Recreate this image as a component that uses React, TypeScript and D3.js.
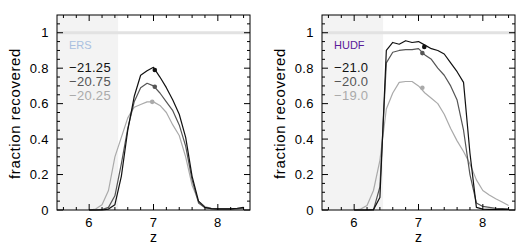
import React, { useEffect, useRef } from "react";
import * as d3 from "d3";

const WIDTH = 531;
const HEIGHT = 246;
const PANEL_W = 193;
const TOP = 15;
const BOTTOM = 210;
const PANEL_LEFTS = [57, 322];

const FONT = "'Liberation Sans', Arial, sans-serif";
const SERIES_COLORS = ["#111111", "#555555", "#aaaaaa"];

const zGrid = [6.0, 6.1, 6.2, 6.3, 6.4, 6.5, 6.6, 6.7, 6.8, 6.9, 7.0, 7.1, 7.2, 7.3, 7.4, 7.5, 7.6, 7.7, 7.8, 7.9, 8.0, 8.1, 8.2, 8.3, 8.4];

// ERS panel
const ersLabels = ["\u221221.25", "\u221220.75", "\u221220.25"];
const ersBright = [0, 0, 0, 0.005, 0.03, 0.19, 0.45, 0.64, 0.76, 0.785, 0.805, 0.75, 0.69, 0.62, 0.54, 0.41, 0.19, 0.05, 0.015, 0.008, 0.006, 0.006, 0.006, 0.01, 0.015];
const ersMid = [0, 0, 0.003, 0.015, 0.08, 0.26, 0.46, 0.61, 0.69, 0.715, 0.7, 0.66, 0.61, 0.56, 0.48, 0.36, 0.17, 0.04, 0.012, 0.008, 0.006, 0.006, 0.006, 0.008, 0.01];
const ersFaint = [0, 0.005, 0.03, 0.11, 0.3, 0.41, 0.52, 0.58, 0.595, 0.61, 0.61, 0.59, 0.55, 0.48, 0.42, 0.3, 0.14, 0.05, 0.02, 0.01, 0.006, 0.005, 0.005, 0.006, 0.008];
const ersMarkers = [[7.02, 0.79], [7.02, 0.695], [6.98, 0.61]];

// HUDF panel
const hudfLabels = ["\u221221.0", "\u221220.0", "\u221219.0"];
const hudfBright = [0, 0, 0, 0.002, 0.07, 0.9, 0.945, 0.935, 0.955, 0.945, 0.95, 0.93, 0.91, 0.9, 0.88, 0.83, 0.78, 0.72, 0.32, 0.015, 0.005, 0.004, 0.004, 0.004, 0.004];
const hudfMid = [0, 0, 0, 0, 0.13, 0.83, 0.89, 0.9, 0.905, 0.905, 0.91, 0.875, 0.85, 0.8, 0.76, 0.7, 0.62, 0.45, 0.2, 0.04, 0.02, 0.015, 0.01, 0.008, 0.005];
const hudfFaint = [0, 0.005, 0.025, 0.11, 0.28, 0.57, 0.66, 0.72, 0.725, 0.725, 0.7, 0.66, 0.63, 0.6, 0.54, 0.46, 0.39, 0.33, 0.26, 0.17, 0.11, 0.085, 0.063, 0.045, 0.025];
const hudfMarkers = [[7.09, 0.92], [7.06, 0.885], [7.06, 0.69]];

const panels = [
  { name: "ERS", nameColor: "#a9bfe0", labels: ersLabels, series: [ersBright, ersMid, ersFaint], markers: ersMarkers },
  { name: "HUDF", nameColor: "#5a1a9a", labels: hudfLabels, series: [hudfBright, hudfMid, hudfFaint], markers: hudfMarkers },
];

const xMajor = [6, 7, 8];
const yMajor = [0, 0.2, 0.4, 0.6, 0.8, 1];
const SHADE_END = 6.45;

function App() {
  const ref = useRef<SVGSVGElement>(null);

  useEffect(() => {
    if (!ref.current) return;
    const svg = d3.select(ref.current);
    svg.selectAll("*").remove();

    const y = d3.scaleLinear().domain([0, 1.1]).range([BOTTOM, TOP]);

    panels.forEach((panel, pi) => {
      const left = PANEL_LEFTS[pi];
      const x = d3.scaleLinear().domain([5.5, 8.5]).range([left, left + PANEL_W]);
      const g = svg.append("g");

      g.append("rect")
        .attr("x", x(5.5))
        .attr("y", TOP)
        .attr("width", x(SHADE_END) - x(5.5))
        .attr("height", BOTTOM - TOP)
        .attr("fill", "#f3f3f3");

      g.append("line")
        .attr("x1", x(5.5))
        .attr("x2", x(8.5))
        .attr("y1", y(1))
        .attr("y2", y(1))
        .attr("stroke", "#e2e2e2")
        .attr("stroke-width", 3);

      const line = d3
        .line<number>()
        .x((_, i) => x(zGrid[i]))
        .y((d) => y(d));

      // faint first so the dark lines sit on top
      [2, 1, 0].forEach((si) => {
        g.append("path")
          .attr("d", line(panel.series[si]))
          .attr("fill", "none")
          .attr("stroke", SERIES_COLORS[si])
          .attr("stroke-width", 1.2)
          .attr("stroke-linejoin", "round");
      });

      panel.markers.forEach(([mz, mv], si) => {
        g.append("circle")
          .attr("cx", x(mz))
          .attr("cy", y(mv))
          .attr("r", 2.3)
          .attr("fill", SERIES_COLORS[si]);
      });

      // ticks on all four sides, pointing inward
      const xMinor = d3.range(5.6, 8.41, 0.2).filter((v) => !xMajor.some((m) => Math.abs(m - v) < 1e-6));
      const yMinor = d3.range(0.05, 1.1, 0.05).filter((v) => !yMajor.some((m) => Math.abs(m - v) < 1e-6));
      const tickG = g.append("g").attr("stroke", "#000").attr("stroke-width", 1);
      const xTicks = [...xMajor.map((v) => [v, 6]), ...xMinor.map((v) => [v, 3])];
      xTicks.forEach(([v, len]) => {
        tickG.append("line").attr("x1", x(v)).attr("x2", x(v)).attr("y1", BOTTOM).attr("y2", BOTTOM - len);
        tickG.append("line").attr("x1", x(v)).attr("x2", x(v)).attr("y1", TOP).attr("y2", TOP + len);
      });
      const yTicks = [...yMajor.map((v) => [v, 6]), ...yMinor.map((v) => [v, 3])];
      yTicks.forEach(([v, len]) => {
        tickG.append("line").attr("x1", left).attr("x2", left + len).attr("y1", y(v)).attr("y2", y(v));
        tickG.append("line").attr("x1", left + PANEL_W).attr("x2", left + PANEL_W - len).attr("y1", y(v)).attr("y2", y(v));
      });

      g.append("rect")
        .attr("x", left)
        .attr("y", TOP)
        .attr("width", PANEL_W)
        .attr("height", BOTTOM - TOP)
        .attr("fill", "none")
        .attr("stroke", "#000")
        .attr("stroke-width", 1);

      g.selectAll(".xlab")
        .data(xMajor)
        .enter()
        .append("text")
        .attr("x", (d) => x(d))
        .attr("y", BOTTOM + 17)
        .attr("text-anchor", "middle")
        .attr("font-family", FONT)
        .attr("font-size", 13)
        .attr("letter-spacing", 0.4)
        .text((d) => d);

      g.selectAll(".ylab")
        .data(yMajor)
        .enter()
        .append("text")
        .attr("x", left - 8)
        .attr("y", (d) => y(d) + 4.5)
        .attr("text-anchor", "end")
        .attr("font-family", FONT)
        .attr("font-size", 13)
        .attr("letter-spacing", 0.4)
        .text((d) => (d === 0 || d === 1 ? String(d) : d.toFixed(1)));

      g.append("text")
        .attr("x", left + PANEL_W / 2)
        .attr("y", BOTTOM + 32)
        .attr("text-anchor", "middle")
        .attr("font-family", FONT)
        .attr("font-size", 14)
        .text("z");

      g.append("text")
        .attr("transform", `translate(${left - 37},${(TOP + BOTTOM) / 2 + 1}) rotate(-90)`)
        .attr("text-anchor", "middle")
        .attr("font-family", FONT)
        .attr("font-size", 15)
        .attr("letter-spacing", 0.6)
        .text("fraction recovered");

      g.append("text")
        .attr("x", left + 12)
        .attr("y", 49)
        .attr("font-family", FONT)
        .attr("font-size", 11)
        .attr("fill", panel.nameColor)
        .text(panel.name);

      panel.labels.forEach((lab, si) => {
        g.append("text")
          .attr("x", left + 12)
          .attr("y", 71.5 + si * 14)
          .attr("font-family", FONT)
          .attr("font-size", 13)
          .attr("letter-spacing", 0.3)
          .attr("fill", SERIES_COLORS[si])
          .text(lab);
      });
    });
  }, []);

  return (
    <svg
      ref={ref}
      width={WIDTH}
      height={HEIGHT}
      style={{ position: "absolute", left: 0, top: 0, background: "#fff" }}
    />
  );
}

export default App;
